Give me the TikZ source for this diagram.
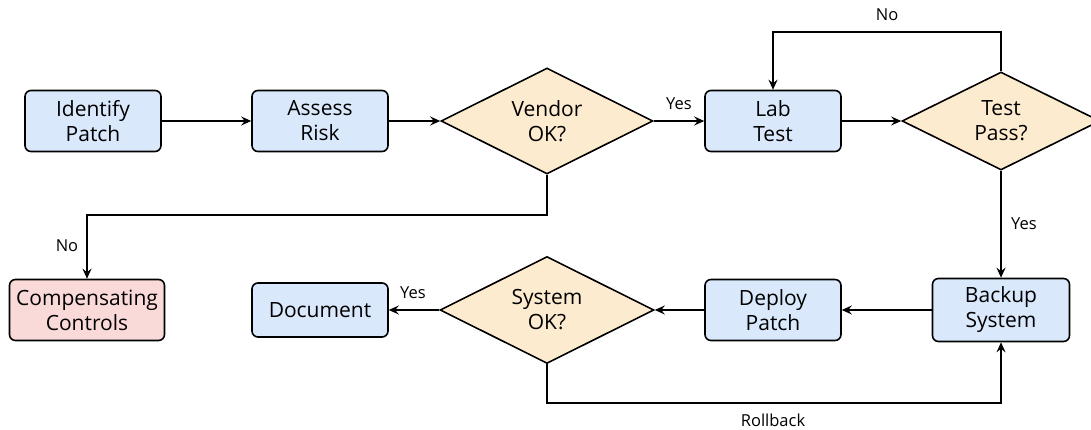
\documentclass[tikz,border=0pt]{standalone}
\usepackage{fontspec}
\setmainfont{Open Sans}
\usetikzlibrary{arrows.meta,shapes.geometric}
\definecolor{boxblue}{HTML}{DAE8FC}
\definecolor{decorange}{HTML}{FDEBCF}
\definecolor{boxred}{HTML}{FAD9D9}
\begin{document}
\begin{tikzpicture}[x=1pt,y=-1pt,
  box/.style={draw, rounded corners=6pt, line width=1.6pt, fill=boxblue,
    minimum width=136pt, minimum height=61pt, align=center, inner sep=0pt,
    font=\fontsize{21}{25}\selectfont},
  dec/.style={draw, diamond, aspect=2, fill=decorange, line width=1.6pt,
    inner sep=0pt, align=center, font=\fontsize{21}{25}\selectfont},
  arr/.style={-{Stealth[length=10pt,width=9pt,inset=3.5pt]}, line width=1.6pt},
  lbl/.style={font=\fontsize{16.5}{19}\selectfont, inner sep=0pt}]
\useasboundingbox (0,0) rectangle (1091,430);
\fill[white] (0,0) rectangle (1091,430);
\node[box] (idp) at (93,121) {Identify\\Patch};
\node[box] (ar) at (320,121) {Assess\\Risk};
\node[dec, minimum width=212pt, minimum height=106pt] (vok) at (547,121) {Vendor\\OK?};
\node[box] (lab) at (773,121) {Lab\\Test};
\node[dec, minimum width=198pt, minimum height=98pt] (tp) at (1001,121) {Test\\Pass?};
\node[box, fill=boxred, minimum width=155pt] (comp) at (87,310) {Compensating\\Controls};
\node[box, minimum height=54pt] (doc) at (320,310) {Document};
\node[dec, minimum width=214pt, minimum height=107pt] (sok) at (547,310) {System\\OK?};
\node[box] (dep) at (773,310) {Deploy\\Patch};
\node[box, minimum width=137pt, minimum height=63pt] (bak) at (1001,310) {Backup\\System};

\coordinate (c1) at (773,32);
\coordinate (c2) at (87,215);
\coordinate (c3) at (547,403);

\draw[arr] (idp) -- (ar);
\draw[arr] (ar) -- (vok);
\draw[arr] (vok) -- (lab);
\draw[arr] (lab) -- (tp);
\draw[arr] (tp.north) |- (c1) -- (lab.north);
\draw[arr] (vok.south) |- (c2) -- (comp.north);
\draw[arr] (tp.south) -- (bak.north);
\draw[arr] (bak) -- (dep);
\draw[arr] (dep) -- (sok);
\draw[arr] (sok) -- (doc);
\draw[arr] (sok.south) -- (c3) -| (bak.south);

\node[lbl] (l1) at (679,104) {Yes};
\node[lbl] (l2) at (887,15) {No};
\node[lbl] (l3) at (67,246) {No};
\node[lbl] (l4) at (1024,224) {Yes};
\node[lbl] (l5) at (413,293) {Yes};
\node[lbl] (l6) at (773,420) {Rollback};
\end{tikzpicture}
\end{document}
